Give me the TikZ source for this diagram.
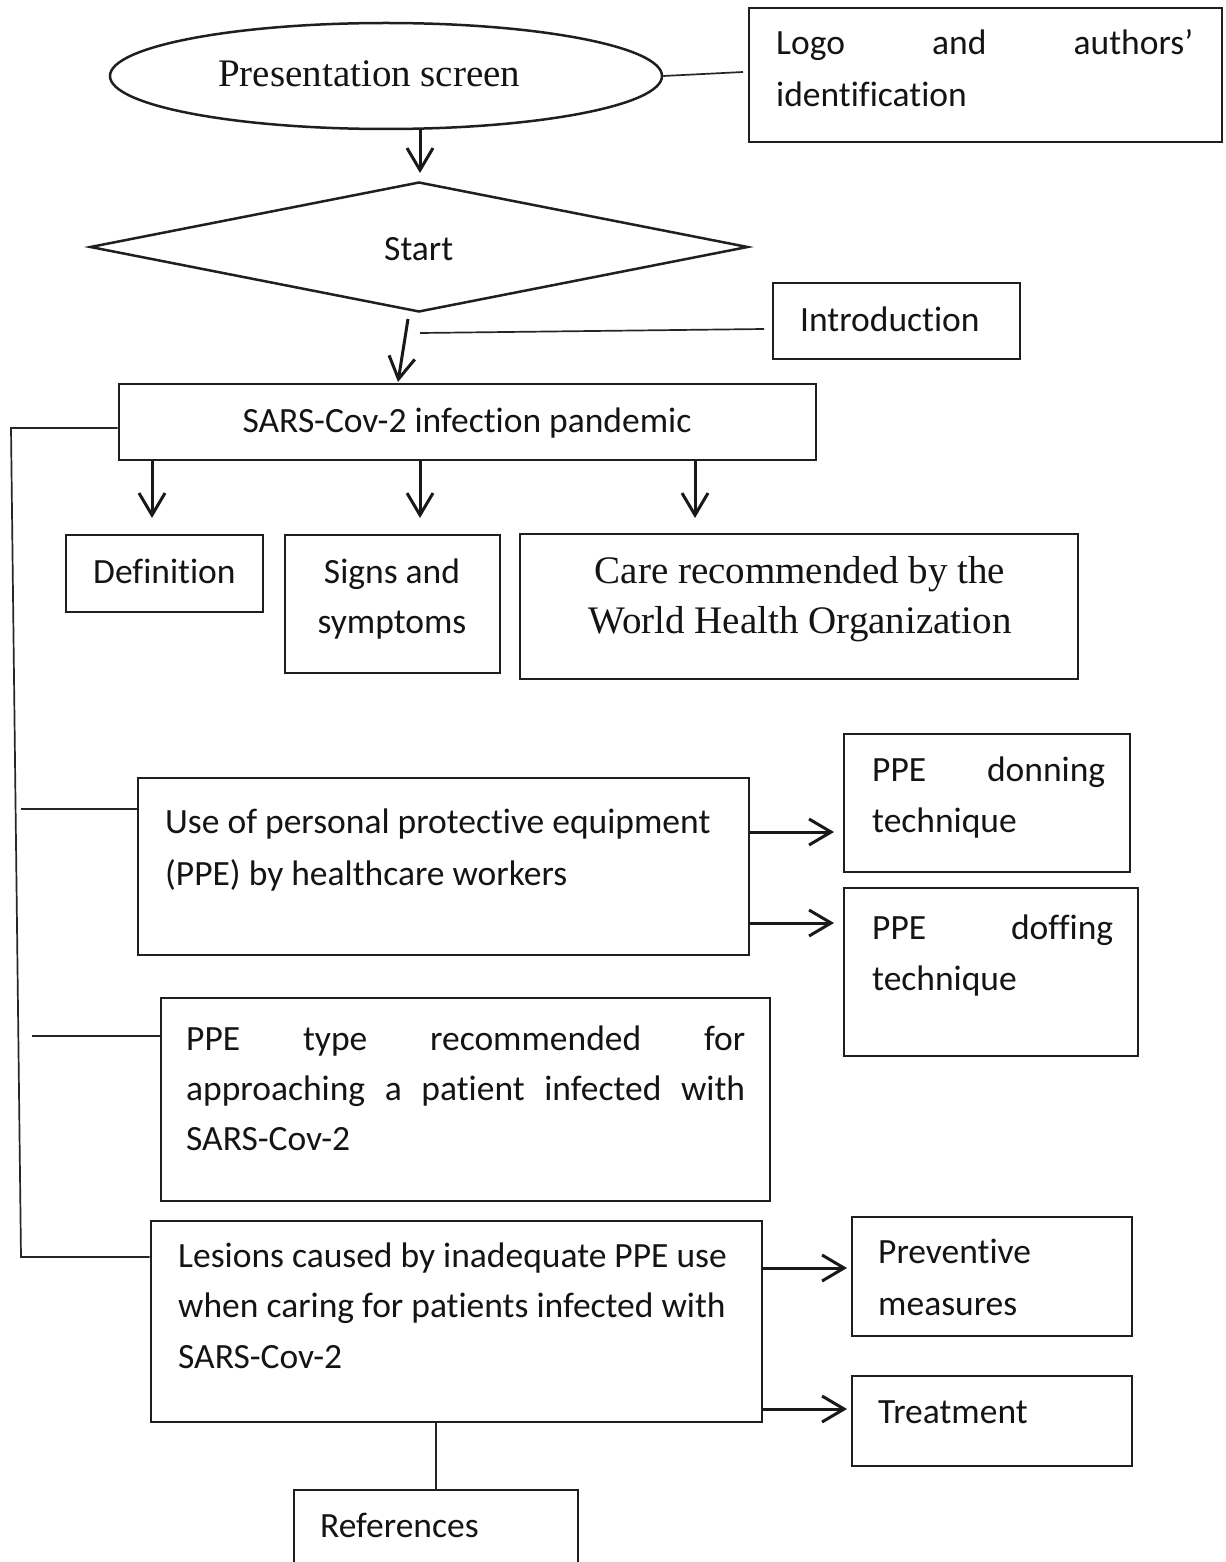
\documentclass[tikz,border=0pt]{standalone}
\usepackage{fontspec}
\setmainfont{Carlito}[Ligatures={NoCommon}]
\newfontfamily\timesf{Liberation Serif}[Ligatures={NoCommon}]
\usetikzlibrary{shapes.geometric,arrows.meta,fit}
\newcommand{\jusline}[2]{\makebox[#1][s]{#2}}
\begin{document}
\begin{tikzpicture}[x=1pt,y=-1pt,
  box/.style={draw=black!88, line width=2.7pt, rectangle, inner sep=0pt},
  txt/.style={inner sep=0pt, text=black!92, font=\fontsize{35.5}{50}\selectfont, anchor=base west},
  ctxt/.style={txt, anchor=base},
  serif/.style={font=\timesf\fontsize{39}{50}\selectfont},
  link/.style={draw=black!85, line width=1.7pt},
  arr/.style={draw=black!90, line width=3pt, -{Straight Barb[length=22pt,width=26pt,line width=3pt]}},
]
\useasboundingbox (0,0) rectangle (1225,1562);
\fill[white] (0,0) rectangle (1225,1562);

% shapes
\node[draw=black!88, line width=2.5pt, ellipse, minimum width=552pt, minimum height=106pt, inner sep=0pt] (pres) at (386,76) {};
\node[draw=black!88, line width=2.5pt, diamond, minimum width=658pt, minimum height=130pt, inner sep=0pt] (start) at (419,247) {};
\node[box, fit={(749,8) (1222,142)}] (logo) {};
\node[box, fit={(773,283) (1020,359)}] (intro) {};
\node[box, fit={(119,384) (816,460)}] (sars) {};
\node[box, fit={(66,535) (263,612)}] (def) {};
\node[box, fit={(285,535) (500,673)}] (signs) {};
\node[box, fit={(520,534) (1078,679)}] (care) {};
\node[box, fit={(138,778) (749,955)}] (use) {};
\node[box, fit={(844,734) (1130,872)}] (don) {};
\node[box, fit={(844,888) (1138,1056)}] (doff) {};
\node[box, fit={(161,998) (770,1201)}] (type) {};
\node[box, fit={(151,1221) (762,1422)}] (les) {};
\node[box, fit={(852,1217) (1132,1336)}] (prev) {};
\node[box, fit={(852,1376) (1132,1466)}] (treat) {};
\node[box, fit={(294,1490) (578,1600)}] (refs) {};

% texts
\node[txt, serif] (tpres) at (218,87) {Presentation screen};
\node[txt] (tlogoa) at (776,55) {\jusline{417pt}{Logo and authors'}};
\node[txt] (tlogob) at (776,107) {identification};
\node[txt] (tstart) at (384,261) {Start};
\node[txt] (tintro) at (800,331) {Introduction};
\node[ctxt] (tsars) at (467,432) {SARS-Cov-2 infection pandemic};
\node[txt] (tdef) at (93,583) {Definition};
\node[ctxt] (tsignsa) at (392,583) {Signs and};
\node[ctxt] (tsignsb) at (392,633) {symptoms};
\node[ctxt, serif] (tcarea) at (800,583) {Care recommended by the};
\node[ctxt, serif] (tcareb) at (800,633) {World Health Organization};
\node[txt] (tusea) at (165,833) {Use of personal protective equipment};
\node[txt] (tuseb) at (165,885) {(PPE) by healthcare workers};
\node[txt] (tdona) at (872,781) {\jusline{233pt}{PPE donning}};
\node[txt] (tdonb) at (872,832) {technique};
\node[txt] (tdoffa) at (872,939) {\jusline{241pt}{PPE doffing}};
\node[txt] (tdoffb) at (872,990) {technique};
\node[txt] (ttypea) at (186,1050) {\jusline{559pt}{PPE type recommended for}};
\node[txt] (ttypeb) at (186,1100) {\jusline{559pt}{approaching a patient infected with}};
\node[txt] (ttypec) at (186,1150) {SARS-Cov-2};
\node[txt] (tlesa) at (178,1267) {Lesions caused by inadequate PPE use};
\node[txt] (tlesb) at (178,1317) {when caring for patients infected with};
\node[txt] (tlesc) at (178,1368) {SARS-Cov-2};
\node[txt] (tpreva) at (878,1263) {Preventive};
\node[txt] (tprevb) at (878,1315) {measures};
\node[txt] (ttreat) at (878,1423) {Treatment};
\node[txt] (trefs) at (320,1537) {References};

% coordinates
\coordinate (pl) at (743,72);
\coordinate (a1s) at (420,129);
\coordinate (a1e) at (420,173);
\coordinate (a2s) at (408,319);
\coordinate (a2e) at (398,382);
\coordinate (ils) at (420,333);
\coordinate (ile) at (764,329);
\coordinate (tipdef) at (152,518);
\coordinate (tipsig) at (420,518);
\coordinate (tipcare) at (695,518);
\coordinate (tipdon) at (834,832);
\coordinate (tipdoff) at (834,923);
\coordinate (tipprev) at (847,1268);
\coordinate (tiptreat) at (847,1409);
\coordinate (rtop) at (436,1490);
\coordinate (bt) at (11,428);
\coordinate (bb) at (21,1257);
\coordinate (b1) at (20.5,809);
\coordinate (b2) at (32,1036);

% connectors
\draw[link] (pres.east) -- (pl);
\draw[arr] (a1s) -- (a1e);
\draw[arr] (a2s) -- (a2e);
\draw[link] (ils) -- (ile);
\draw[arr] (sars.south -| tipdef) -- (tipdef);
\draw[arr] (sars.south -| tipsig) -- (tipsig);
\draw[arr] (sars.south -| tipcare) -- (tipcare);
\draw[arr] (use.east |- tipdon) -- (tipdon);
\draw[arr] (use.east |- tipdoff) -- (tipdoff);
\draw[arr] (les.east |- tipprev) -- (tipprev);
\draw[arr] (les.east |- tiptreat) -- (tiptreat);
\draw[link] (les.south -| rtop) -- (rtop);
\draw[link] (sars.west |- bt) -- (bt) -- (bb) -- (les.west |- bb);
\draw[link] (b1) -- (use.west |- b1);
\draw[link] (b2) -- (type.west |- b2);
\end{tikzpicture}
\end{document}
